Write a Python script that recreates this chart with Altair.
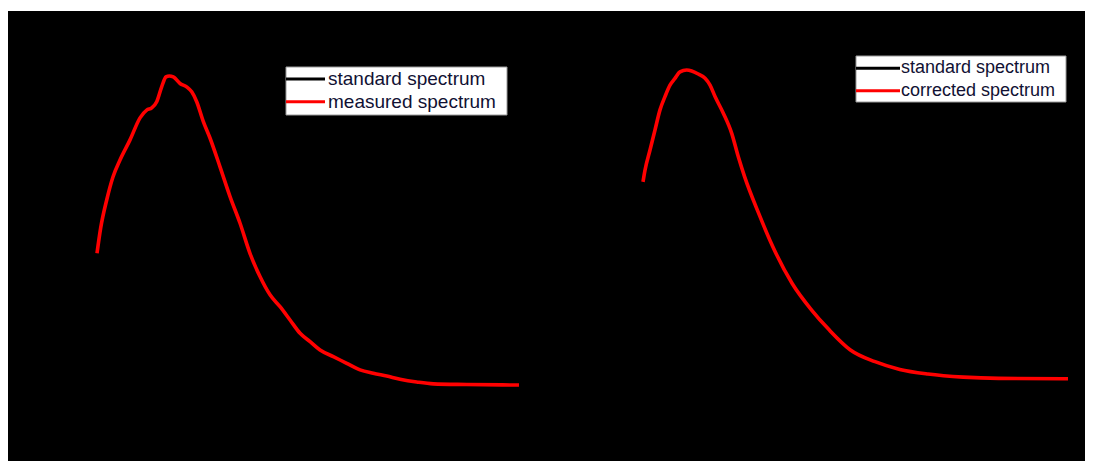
import altair as alt
import pandas as pd

# ---- data (wavelength in nm, normalised intensity) ----
meas_wl = [380, 383.5, 389.2, 395.2, 401.8, 411.3, 420.8, 427.1, 431.9, 436.6, 441.3, 445.4,
           448.5, 452.3, 458.7, 465.0, 469.8, 474.5, 480.8, 487.1, 496.6, 506.1, 515.6, 525.0,
           534.5, 544.0, 553.5, 563.0, 572.5, 582.0, 591.4, 604.0, 616.7, 629.3, 641.9, 654.6,
           667.2, 683.0, 698.8, 730.4, 780]
meas_v = [0.428, 0.510, 0.600, 0.675, 0.729, 0.794, 0.865, 0.890, 0.897, 0.917, 0.965, 0.997,
          1.000, 0.997, 0.976, 0.965, 0.949, 0.917, 0.853, 0.800, 0.707, 0.611, 0.525, 0.428,
          0.353, 0.294, 0.256, 0.213, 0.170, 0.143, 0.116, 0.095, 0.073, 0.052, 0.041, 0.032,
          0.022, 0.013, 0.007, 0.005, 0.003]

corr_wl = [380, 381.9, 386.6, 391.3, 396.0, 400.7, 405.4, 410.1, 414.8, 421.1, 425.8, 432.0,
           438.4, 443.1, 447.8, 455.6, 463.5, 469.7, 475.6, 488.9, 502.2, 520.4, 538.7, 555.2,
           575.2, 598.4, 621.7, 648.2, 681.5, 714.7, 780]
corr_v = [0.638, 0.676, 0.741, 0.806, 0.871, 0.914, 0.951, 0.973, 0.994, 1.000, 0.997, 0.987,
          0.973, 0.951, 0.914, 0.860, 0.795, 0.719, 0.655, 0.536, 0.428, 0.309, 0.223, 0.159,
          0.094, 0.056, 0.031, 0.016, 0.006, 0.002, 0.001]

# standard spectrum (drawn black, lies under the red curve)
std_wl = corr_wl
std_v = corr_v

left_labels = ["standard spectrum", "measured spectrum"]
right_labels = ["standard spectrum", "corrected spectrum"]

FONT = "Liberation Sans"


def panel(red_wl, red_v, labels, w, xrange, yrange, leg, fsize):
    xs = alt.Scale(domain=[380, 780], range=xrange)
    ys = alt.Scale(domain=[0, 1], range=yrange)
    std_df = pd.DataFrame({"wl": std_wl, "v": std_v})
    red_df = pd.DataFrame({"wl": red_wl, "v": red_v})
    std = alt.Chart(std_df).mark_line(color="black", strokeWidth=2, interpolate="monotone").encode(
        x=alt.X("wl:Q", scale=xs, axis=None), y=alt.Y("v:Q", scale=ys, axis=None))
    red = alt.Chart(red_df).mark_line(color="#ff0000", strokeWidth=3.6, interpolate="monotone").encode(
        x=alt.X("wl:Q", scale=xs, axis=None), y=alt.Y("v:Q", scale=ys, axis=None))

    bx0, by0, bx1, by1, lx1, r1, r2, tx = leg
    one = pd.DataFrame({"k": [0]})
    box = alt.Chart(one).mark_rect(fill="white", stroke="#9a9a9a", strokeWidth=1).encode(
        x=alt.value(bx0), x2=alt.value(bx1), y=alt.value(by0), y2=alt.value(by1))
    l1 = alt.Chart(one).mark_rule(color="black", strokeWidth=3).encode(
        x=alt.value(bx0), x2=alt.value(lx1), y=alt.value(r1))
    l2 = alt.Chart(one).mark_rule(color="#ff0000", strokeWidth=3).encode(
        x=alt.value(bx0), x2=alt.value(lx1), y=alt.value(r2))
    t1 = alt.Chart(one).mark_text(text=labels[0], align="left", baseline="middle",
                                  font=FONT, fontSize=fsize, color="#111133").encode(
        x=alt.value(tx), y=alt.value(r1))
    t2 = alt.Chart(one).mark_text(text=labels[1], align="left", baseline="middle",
                                  font=FONT, fontSize=fsize, color="#111133").encode(
        x=alt.value(tx), y=alt.value(r2))
    return alt.layer(std, red, box, l1, l2, t1, t2).properties(width=w, height=450)


left = panel(meas_wl, meas_v, left_labels, 542, [89, 511], [375, 65],
             (278, 56, 499, 104, 317, 68, 90.7, 320), 19)
right = panel(corr_wl, corr_v, right_labels, 535, [93, 518], [368, 59],
              (306, 45, 516, 91, 350, 57.3, 79.7, 351), 18)

chart = alt.hconcat(left, right, spacing=0).properties(
    padding={"left": 0, "top": 3, "right": 0, "bottom": 0},
    background="white",
).configure_view(fill="black", strokeWidth=0)

chart.save("out.html", embed_options={"renderer": "svg", "actions": False})
